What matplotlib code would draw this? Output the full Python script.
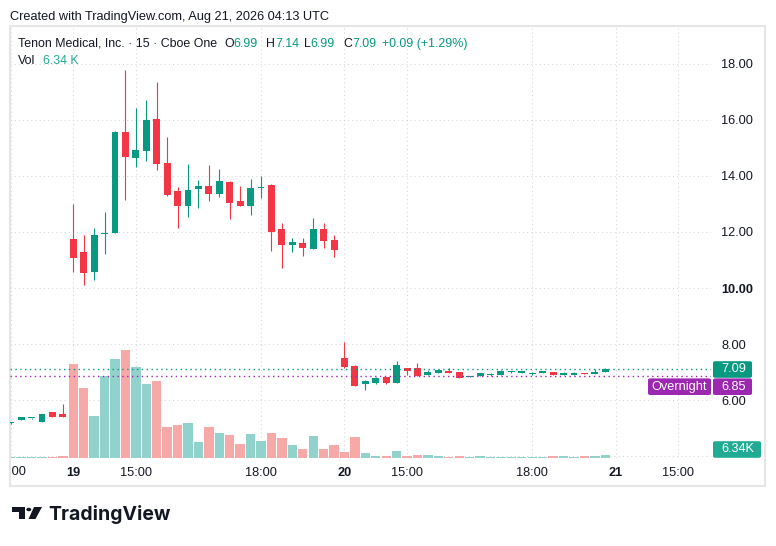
import matplotlib
matplotlib.use('Agg')
import matplotlib.pyplot as plt
from matplotlib.patches import Rectangle, FancyBboxPatch, Polygon, Circle
from matplotlib.transforms import Bbox, TransformedBbox, blended_transform_factory

plt.rcParams['font.family'] = ['Liberation Sans', 'DejaVu Sans']

# 15 min bars, index 0 = Aug 19 13:30 UTC (regular session only)
bar_idx = list(range(-6, 52))
opens = [5.17, 5.30, 5.34, 5.21, 5.57, 5.50,
         11.75, 11.29, 10.58, 11.93, 11.98, 15.57, 14.65, 14.90, 16.04, 14.46,
         13.46, 12.94, 13.55, 13.64, 13.37, 13.77, 13.11, 12.94, 13.58, 13.68,
         12.11, 11.55, 11.61, 11.40, 12.11, 11.71,
         7.50, 7.21, 6.58, 6.62, 6.82, 6.62, 7.14, 7.14, 6.90, 6.98,
         7.05, 7.00, 6.82, 6.86, 6.88, 6.90, 6.99, 6.98, 6.93, 6.98,
         7.00, 6.90, 6.91, 6.96, 6.93, 6.99]
highs = [5.20, 5.40, 5.37, 5.51, 5.58, 5.87,
         13.00, 11.89, 12.13, 12.71, 15.60, 17.79, 16.44, 16.71, 17.36, 15.39,
         13.61, 14.43, 13.86, 14.39, 14.25, 13.81, 13.64, 13.89, 14.00, 13.71,
         12.32, 11.79, 11.79, 12.50, 12.32, 11.89,
         8.08, 7.24, 6.71, 6.82, 6.83, 7.39, 7.15, 7.32, 7.06, 7.12,
         7.14, 7.01, 6.84, 6.97, 6.98, 7.06, 7.03, 7.02, 6.99, 7.01,
         7.01, 6.99, 7.01, 6.97, 7.12, 7.14]
lows = [5.16, 5.29, 5.33, 5.20, 5.39, 5.39,
        10.58, 10.12, 10.29, 11.21, 11.96, 13.14, 14.32, 14.55, 14.23, 13.30,
        12.15, 12.55, 12.87, 13.12, 13.26, 12.46, 12.93, 12.61, 13.23, 11.33,
        10.73, 11.30, 11.15, 11.39, 11.44, 11.12,
        7.15, 6.50, 6.37, 6.58, 6.57, 6.61, 6.89, 6.86, 6.89, 6.97,
        6.97, 6.79, 6.81, 6.85, 6.87, 6.89, 6.97, 6.97, 6.90, 6.97,
        6.89, 6.89, 6.90, 6.93, 6.92, 6.99]
closes = [5.19, 5.39, 5.36, 5.50, 5.40, 5.40,
          11.08, 10.55, 11.89, 11.97, 15.57, 14.69, 14.93, 16.00, 14.44, 13.33,
          12.94, 13.50, 13.64, 13.37, 13.82, 13.05, 12.94, 13.57, 13.61, 12.01,
          11.55, 11.64, 11.44, 12.11, 11.69, 11.37,
          7.18, 6.51, 6.68, 6.80, 6.62, 7.25, 7.05, 6.87, 7.00, 7.07,
          6.98, 6.80, 6.83, 6.96, 6.94, 7.05, 7.01, 7.00, 6.95, 7.00,
          6.90, 6.98, 6.98, 6.94, 6.99, 7.09]
volume_k = [2.3, 1.2, 1.2, 1.2, 1.2, 4.0,
            220, 164, 98, 192, 232, 253, 213, 173, 180, 72,
            77, 82, 37, 72, 58, 53, 32, 56, 39, 58,
            46, 30, 20, 51, 20, 30,
            13, 49, 11, 4, 4, 16, 4, 6.3, 6.3, 4,
            1.6, 4, 2.4, 4, 1.5, 2, 1.5, 1.5, 1.5, 1.5,
            4, 4, 1.6, 4, 4, 6.34]

time_ticks = [0, 6, 18, 26, 32, 44, 52, 58]
time_labels = ['19', '15:00', '18:00', '20', '15:00', '18:00', '21', '15:00']
day_labels = ['19', '20', '21']
price_ticks = [4, 6, 8, 10, 12, 14, 16, 18]

last_close = 7.09
overnight = 6.85

TEAL = '#089981'
RED = '#f23645'
TEAL_V = '#92d2cc'
RED_V = '#f7a9a7'
PURPLE = '#9c27b0'
TXT = '#131722'
GRID = '#d4d6dc'
FS = 9.2

W, H = 776, 546
fig = plt.figure(figsize=(W / 100, H / 100), dpi=100)


def fx(x):
    return x / W


def fy(y):
    return 1 - y / H


pane = [fx(10), fy(458), fx(711) - fx(10), fy(27) - fy(458)]
axg = fig.add_axes(pane, zorder=0)
axv = fig.add_axes(pane, sharex=axg, zorder=1)
ax = fig.add_axes(pane, sharex=axg, sharey=axg, zorder=2)
for a in (axg, axv, ax):
    for s in a.spines.values():
        s.set_visible(False)
axv.patch.set_visible(False)
ax.patch.set_visible(False)
for a in (axg, axv):
    a.tick_params(length=0, labelbottom=False, labelleft=False)
axv.set_yticks([])

axg.set_xlim(-6.07, 61.14)
axg.set_ylim(3.929, 19.321)
axv.set_ylim(0, 1013)

# grid (behind the volume)
for t in [-6] + time_ticks:
    axg.axvline(t, color=GRID, lw=0.75, ls=(0, (1, 3)))
for p in price_ticks:
    axg.axhline(p, color=GRID, lw=0.75, ls=(0, (1, 3)))

# volume
vcol = [TEAL_V if c >= o else RED_V for o, c in zip(opens, closes)]
axv.bar(bar_idx, volume_k, width=0.9, color=vcol, linewidth=0)

# candles
ccol = [TEAL if c >= o else RED for o, c in zip(opens, closes)]
ax.vlines(bar_idx, lows, highs, colors=ccol, lw=0.8)
bottoms = [min(o, c) for o, c in zip(opens, closes)]
heights = [max(abs(c - o), 0.04) for o, c in zip(opens, closes)]
ax.bar(bar_idx, heights, bottom=bottoms, width=0.66, color=ccol, linewidth=0)

ax.axhline(last_close, color=TEAL, lw=1, ls=(0, (1, 2.5)))
ax.axhline(overnight, color=PURPLE, lw=1, ls=(0, (1, 2.5)))

# axes labels
ax.yaxis.tick_right()
ax.set_yticks(price_ticks)
ax.set_yticklabels(['' if p == 4 else f'{p:.2f}' for p in price_ticks])
for lab in ax.get_yticklabels():
    if lab.get_text() == '10.00':
        lab.set_fontweight('bold')
ax.set_xticks(time_ticks)
ax.set_xticklabels(time_labels)
for lab in ax.get_xticklabels():
    if lab.get_text() in day_labels:
        lab.set_fontweight('bold')
ax.tick_params(axis='both', length=0, labelsize=FS, labelcolor=TXT)
ax.tick_params(axis='y', pad=7.4)
ax.tick_params(axis='x', pad=6.5)

# partly hidden time label at the left edge
bt = blended_transform_factory(ax.transData, fig.transFigure)
t = fig.text(-6.1, fy(472), '18:00', transform=bt, ha='center', va='center',
             fontsize=FS, color=TXT)
t.set_clip_box(TransformedBbox(Bbox.from_extents(fx(11), 0, fx(711), 1), fig.transFigure))
t.set_clip_on(True)

# frame
fig.patches.append(Rectangle((fx(10), fy(486)), fx(765) - fx(10), fy(26) - fy(486),
                             transform=fig.transFigure, fill=False, ec='#e6e6e9', lw=1.5))

# header
fig.text(fx(10), fy(17), 'Created with TradingView.com, Aug 21, 2026 04:13 UTC',
         fontsize=FS, color=TXT, va='center', ha='left')
legend = [(18, 'Tenon Medical, Inc. · 15 · Cboe One', TXT),
          (224, 'O', TXT), (233, '6.99', TEAL),
          (266, 'H', TXT), (275, '7.14', TEAL),
          (304, 'L', TXT), (310, '6.99', TEAL),
          (343, 'C', TXT), (352, '7.09', TEAL),
          (382, '+0.09 (+1.29%)', TEAL)]
for x, s, c in legend:
    fig.text(fx(x), fy(44), s, fontsize=8.9, color=c, va='center', ha='left')
fig.text(fx(18), fy(61), 'Vol', fontsize=8.9, color=TXT, va='center', ha='left')
fig.text(fx(43), fy(61), '6.34 K', fontsize=8.9, color='#22ab94', va='center', ha='left')


# price axis labels
def label_box(x0, x1, yc, text, color, tx=None, ha='left'):
    fig.patches.append(FancyBboxPatch((fx(x0), fy(yc + 8.3)), fx(x1) - fx(x0), fy(yc - 8.3) - fy(yc + 8.3),
                                      boxstyle='round,pad=0,rounding_size=0.003',
                                      transform=fig.transFigure, fc=color, ec='none'))
    fig.text(fx(tx if tx is not None else x0 + 8), fy(yc), text, color='white', fontsize=FS,
             va='center', ha=ha)


label_box(713, 752, 369.5, f'{last_close:.2f}', TEAL)
label_box(648, 711, 386.7, 'Overnight', PURPLE, tx=679.5, ha='center')
label_box(713, 752, 386.7, f'{overnight:.2f}', PURPLE)
label_box(713, 761, 449.5, '6.34K', '#22ab94')

# logo
fig.patches.append(Polygon([(fx(12), fy(507)), (fx(25), fy(507)), (fx(25), fy(519)),
                            (fx(19), fy(519)), (fx(19), fy(512)), (fx(12), fy(512))],
                           closed=True, transform=fig.transFigure, fc='#131722', ec='none'))
fig.patches.append(Circle((fx(28.8), fy(509.5)), 2.5 / W, transform=fig.transFigure,
                          fc='#131722', ec='none'))
fig.patches.append(Polygon([(fx(34), fy(507)), (fx(42), fy(507)), (fx(35.5), fy(519)),
                            (fx(28.5), fy(519))],
                           closed=True, transform=fig.transFigure, fc='#131722', ec='none'))
fig.text(fx(48), fy(515), 'TradingView', fontsize=14, fontweight='bold', color='#131722',
         family=['Inter', 'DejaVu Sans'], va='center', ha='left')

fig.savefig('out.png', dpi=100)
